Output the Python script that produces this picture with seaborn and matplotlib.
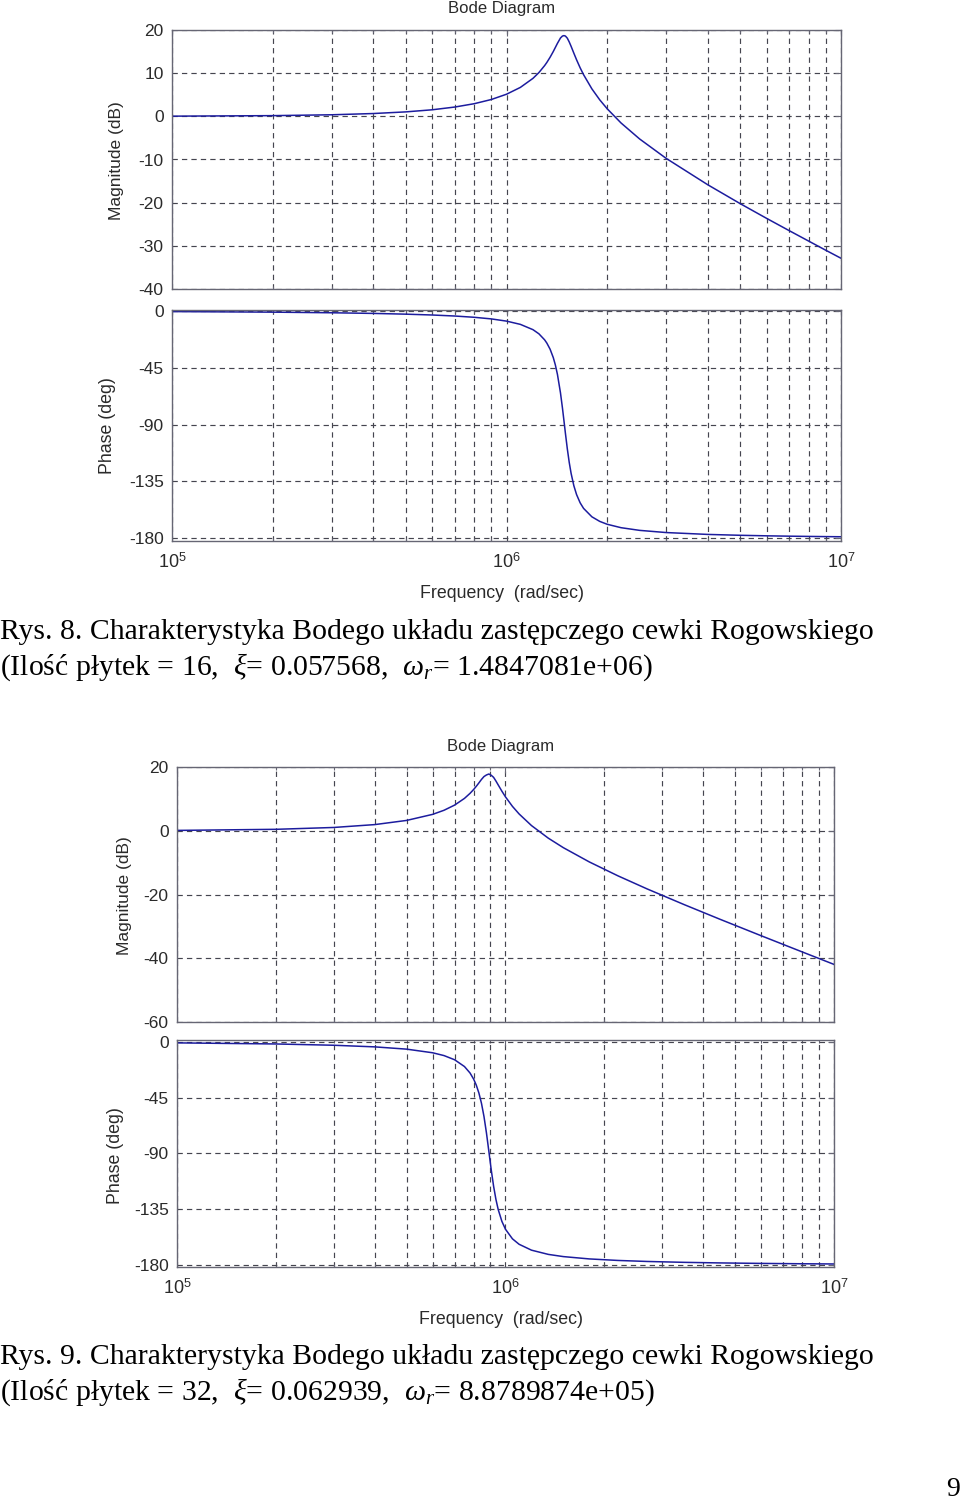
import matplotlib
matplotlib.use("Agg")
import matplotlib.pyplot as plt
import matplotlib.ticker as mticker
import seaborn as sns
import pandas as pd

# ---------------- data ----------------
freq1 = [1e5, 2e5, 3e5, 4e5, 5e5, 6e5, 7e5, 8e5, 9e5, 1.0e6, 1.1e6, 1.2e6, 1.25e6,
         1.3e6, 1.32e6, 1.35e6, 1.38e6, 1.4e6, 1.42e6, 1.45e6, 1.47e6, 1.485e6,
         1.50e6, 1.52e6, 1.54e6, 1.56e6, 1.59e6, 1.62e6, 1.66e6, 1.7e6, 1.8e6,
         1.9e6, 2.0e6, 2.2e6, 2.5e6, 3e6, 4e6, 5e6, 6e6, 7e6, 8e6, 9e6, 1e7]
mag1 = [0.04, 0.16, 0.36, 0.65, 1.03, 1.52, 2.15, 2.92, 3.89, 5.12, 6.70, 8.80, 10.14,
        11.75, 12.48, 13.69, 15.02, 15.97, 16.91, 18.15, 18.60, 18.70,
        18.60, 18.10, 17.23, 16.22, 14.62, 13.09, 11.25, 9.64, 6.36,
        3.82, 1.75, -1.54, -5.24, -9.73, -15.87, -20.24, -23.66, -26.48, -28.89,
        -31.01, -32.88]
phase1 = [-0.45, -0.90, -1.39, -1.91, -2.50, -3.17, -3.97, -4.97, -6.25, -8.01, -10.59,
          -14.80, -18.09, -22.86, -25.42, -30.29, -36.96, -42.85, -50.26, -64.92,
          -77.04, -86.92, -96.89, -109.34, -120.03, -128.74, -138.59, -145.58,
          -152.06, -156.52, -163.18, -166.82, -169.10, -171.81, -173.93, -175.66,
          -177.15, -177.84, -178.26, -178.53, -178.73, -178.88, -179.00]

freq2 = [1e5, 2e5, 3e5, 4e5, 5e5, 6e5, 6.5e5, 7e5, 7.5e5, 7.8e5, 8e5, 8.15e5, 8.3e5,
         8.45e5, 8.6e5, 8.75e5, 8.9e5, 9.05e5, 9.2e5, 9.35e5, 9.5e5, 9.75e5, 1.0e6,
         1.05e6, 1.1e6, 1.2e6, 1.35e6, 1.5e6, 1.8e6, 2.2e6, 2.7e6, 3.5e6, 4.5e6,
         6e6, 8e6, 1e7]
mag2 = [0.11, 0.45, 1.03, 1.93, 3.24, 5.14, 6.43, 8.05, 10.15, 11.74, 12.95, 13.96,
        15.02, 16.10, 17.00, 17.50, 17.80, 17.40, 16.75, 15.61, 14.39, 12.41, 10.62,
        7.64, 5.27, 1.62, -2.33, -5.31, -9.79, -14.15, -18.26, -23.18, -27.78,
        -32.93, -38.01, -41.93]
phase2 = [-0.82, -1.70, -2.74, -4.05, -5.88, -8.81, -11.09, -14.46, -19.93, -25.17,
          -30.13, -35.03, -41.37, -49.62, -60.29, -73.53, -88.52, -103.49, -116.61,
          -127.17, -135.33, -144.95, -151.35, -159.06, -163.45, -168.21, -171.62,
          -173.40, -175.28, -176.51, -177.33, -178.04, -178.51, -178.90, -179.19,
          -179.35]

mag1_ticks = [-40, -30, -20, -10, 0, 10, 20]
mag2_ticks = [-60, -40, -20, 0, 20]
phase_ticks = [-180, -135, -90, -45, 0]
freq_ticks = [1e5, 1e6, 1e7]
freq_ticklabels = [r"$\mathsf{10}^{\mathsf{5}}$", r"$\mathsf{10}^{\mathsf{6}}$",
                   r"$\mathsf{10}^{\mathsf{7}}$"]

title_text = "Bode Diagram"
mag_label = "Magnitude (dB)"
phase_label = "Phase (deg)"
freq_label = "Frequency  (rad/sec)"
cap1a = "Rys. 8. Charakterystyka Bodego układu zastępczego cewki Rogowskiego"
cap1b = r"(Ilość płytek = 16,  $\xi$= 0.057568,  $\omega_r$= 1.4847081e+06)"
cap2a = "Rys. 9. Charakterystyka Bodego układu zastępczego cewki Rogowskiego"
cap2b = r"(Ilość płytek = 32,  $\xi$= 0.062939,  $\omega_r$= 8.8789874e+05)"
page_no = "9"

# ---------------- style ----------------
sns.set_theme(style="white")
plt.rcParams["font.family"] = ["Liberation Sans", "DejaVu Sans"]
plt.rcParams["mathtext.fontset"] = "custom"
plt.rcParams["mathtext.rm"] = "Liberation Serif"
plt.rcParams["mathtext.it"] = "Liberation Serif:italic"
plt.rcParams["mathtext.sf"] = "Liberation Sans"

W, H = 960, 1501
fig = plt.figure(figsize=(W / 100, H / 100), dpi=100)
fig.patch.set_facecolor("white")

LINE = "#1c1c9e"
GRID = "#45454f"
SPINE = "#666674"
TXT = "#2a2a2a"
LAB = 12.5


def px_axes(left, top, right, bottom):
    return fig.add_axes([left / W, 1 - bottom / H, (right - left) / W, (bottom - top) / H])


def style_axes(ax, yticks, ylim, show_x):
    ax.set_xscale("log")
    ax.set_xlim(1e5, 1e7)
    ax.set_ylim(*ylim)
    ax.set_yticks(yticks)
    ax.set_yticklabels([str(t) for t in yticks])
    ax.set_xticks(freq_ticks)
    ax.xaxis.set_minor_locator(mticker.LogLocator(base=10, subs=range(2, 10), numticks=20))
    ax.xaxis.set_minor_formatter(mticker.NullFormatter())
    if show_x:
        ax.set_xticklabels(freq_ticklabels)
    else:
        ax.set_xticklabels([])
    ax.set_xlabel("")
    ax.set_ylabel("")
    ax.grid(True, which="both", axis="x", color=GRID, linestyle=(0, (4.5, 3.5)), linewidth=0.85)
    ax.grid(True, which="major", axis="y", color=GRID, linestyle=(0, (4.5, 3.5)), linewidth=0.85)
    ax.set_axisbelow(True)
    for s in ax.spines.values():
        s.set_color(SPINE)
        s.set_linewidth(1.0)
        s.set_visible(True)
    ax.tick_params(axis="both", which="major", direction="in", length=4, width=0.8,
                   color=SPINE, top=True, right=True, labelsize=LAB, labelcolor=TXT, pad=6)
    ax.tick_params(axis="x", which="minor", direction="in", length=2.5, width=0.8,
                   color=SPINE, top=True, bottom=True)
    ax.tick_params(axis="x", which="major", pad=8, labelsize=13)


def draw_chart(freq, mag, phase, box_mag, box_ph, mag_ticks, mag_lim, ph_lim,
               title_xy, maglab_xy, phlab_xy, flab_xy):
    axm = px_axes(*box_mag)
    dfm = pd.DataFrame({"f": freq, "v": mag})
    sns.lineplot(data=dfm, x="f", y="v", ax=axm, color=LINE, linewidth=1.1,
                 estimator=None, sort=False)
    style_axes(axm, mag_ticks, mag_lim, False)

    axp = px_axes(*box_ph)
    dfp = pd.DataFrame({"f": freq, "v": phase})
    sns.lineplot(data=dfp, x="f", y="v", ax=axp, color=LINE, linewidth=1.1,
                 estimator=None, sort=False)
    style_axes(axp, phase_ticks, ph_lim, True)

    fig.text(title_xy[0] / W, 1 - title_xy[1] / H, title_text, ha="center", va="center",
             fontsize=12, color=TXT)
    fig.text(maglab_xy[0] / W, 1 - maglab_xy[1] / H, mag_label, ha="center", va="center",
             rotation=90, fontsize=12.5, color=TXT)
    fig.text(phlab_xy[0] / W, 1 - phlab_xy[1] / H, phase_label, ha="center", va="center",
             rotation=90, fontsize=12.8, color=TXT)
    fig.text(flab_xy[0] / W, 1 - flab_xy[1] / H, freq_label, ha="center", va="center",
             fontsize=12.8, color=TXT)


draw_chart(freq1, mag1, phase1,
           (172, 30, 841, 289), (172, 310, 841, 541.3),
           mag1_ticks, (-40, 20), (-182.6, 0.8),
           (502, 9), (117, 161), (107, 426), (502, 593))

draw_chart(freq2, mag2, phase2,
           (177, 767, 834, 1022), (177, 1040, 834, 1267),
           mag2_ticks, (-60, 20), (-181.8, 1.5),
           (501, 747), (125, 896), (115, 1156), (501, 1319))

serif = ["Liberation Serif", "DejaVu Serif"]
for text, y, fs in [(cap1a, 632, 21.4), (cap1b, 667, 21.4), (cap2a, 1357, 21.4),
                    (cap2b, 1392, 21.4)]:
    fig.text(0.0 / W, 1 - y / H, text, ha="left", va="center", fontsize=fs,
             family=serif, color="black")
fig.text(953 / W, 1 - 1490 / H, page_no, ha="center", va="center", fontsize=20,
         family=serif, color="black")

fig.savefig("out.png", dpi=100, facecolor="white")
